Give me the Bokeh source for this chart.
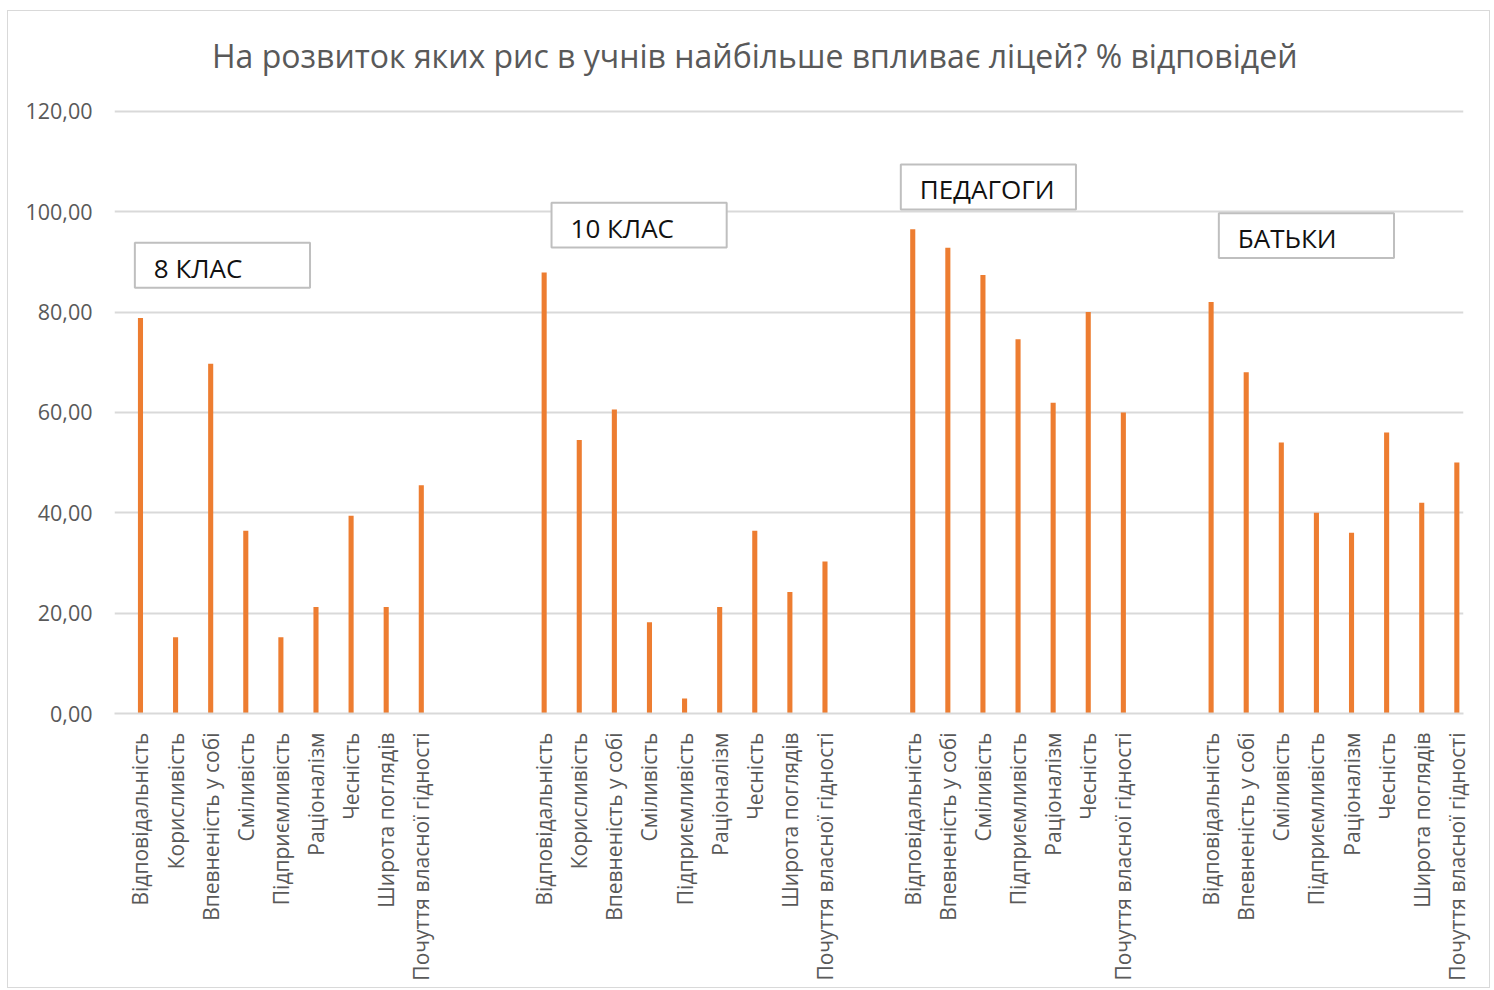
import math
from bokeh.plotting import figure
from bokeh.models import FixedTicker, Range1d, BoxAnnotation, Label, ColumnDataSource
from bokeh.embed import file_html
from bokeh.resources import INLINE

# ---------------- data ----------------
chart_title = "На розвиток яких рис в учнів найбільше впливає ліцей? % відповідей"

group_names = ["8 КЛАС", "10 КЛАС", "ПЕДАГОГИ", "БАТЬКИ"]

cats_8 = ["Відповідальність", "Корисливість", "Впевненість у собі", "Сміливість",
          "Підприємливість", "Раціоналізм", "Чесність", "Широта поглядів",
          "Почуття власної гідності"]
vals_8 = [78.8, 15.2, 69.7, 36.4, 15.2, 21.2, 39.4, 21.2, 45.5]

cats_10 = ["Відповідальність", "Корисливість", "Впевненість у собі", "Сміливість",
           "Підприємливість", "Раціоналізм", "Чесність", "Широта поглядів",
           "Почуття власної гідності"]
vals_10 = [87.9, 54.5, 60.6, 18.2, 3.0, 21.2, 36.4, 24.2, 30.3]

cats_ped = ["Відповідальність", "Впевненість у собі", "Сміливість", "Підприємливість",
            "Раціоналізм", "Чесність", "Почуття власної гідності"]
vals_ped = [96.5, 92.8, 87.4, 74.6, 61.9, 80.0, 60.0]

cats_par = ["Відповідальність", "Впевненість у собі", "Сміливість", "Підприємливість",
            "Раціоналізм", "Чесність", "Широта поглядів", "Почуття власної гідності"]
vals_par = [82.0, 68.0, 54.0, 40.0, 36.0, 56.0, 42.0, 50.0]

y_ticks = [0, 20, 40, 60, 80, 100, 120]
y_tick_labels = ["0,00", "20,00", "40,00", "60,00", "80,00", "100,00", "120,00"]

# ---------------- layout (positions / styles) ----------------
group_cats = [cats_8, cats_10, cats_ped, cats_par]
group_vals = [vals_8, vals_10, vals_ped, vals_par]
group_gaps = [0.0, 3.5, 2.5, 2.5]          # distance (in slots) from previous group's last bar
box_dx = [-0.16, 0.21, -0.34, 0.22]         # label-box left edge relative to group's first bar
box_top = [93.8, 101.8, 109.4, 99.7]        # label-box top (y units)
box_w, box_h = 4.99, 8.95
title_x = 17.5                              # horizontal centre of the chart title (x units)
y_headroom = 15.9                           # empty space above the last gridline (holds the title)

BAR = "#ED7D31"
GRID = "#D9D9D9"
TXT = "#595959"
FONT = "Open Sans"

xs, tops, labels, firsts = [], [], [], []
pos = 0.0
for gi, (cats, vals) in enumerate(zip(group_cats, group_vals)):
    pos = pos + group_gaps[gi] if gi > 0 else 0.0
    firsts.append(pos)
    for i, (c, v) in enumerate(zip(cats, vals)):
        if i > 0:
            pos += 1.0
        xs.append(pos)
        tops.append(v)
        labels.append(c)

src = ColumnDataSource(dict(x=xs, top=tops, label=labels))

p = figure(width=1483, height=978, output_backend="svg", toolbar_location=None,
           x_range=Range1d(-0.74, xs[-1] + 0.19),
           y_range=Range1d(0, y_ticks[-1] + y_headroom),
           min_border_left=106, min_border_right=28, min_border_top=20,
           min_border_bottom=276)
p.styles = {"border": "1.5px solid #D9D9D9", "box-sizing": "border-box",
            "margin-left": "7px", "margin-top": "10px"}
p.outline_line_color = None
p.background_fill_color = "white"
p.border_fill_color = "white"

p.vbar(x="x", top="top", width=0.145, bottom=0, source=src, fill_color=BAR, line_color=None)

# title (as a label above the last gridline)
p.add_layout(Label(x=title_x, y=y_ticks[-1], y_offset=56, text=chart_title,
                   text_font=FONT, text_font_size="32px", text_color=TXT,
                   text_align="center", text_baseline="middle"))

# y axis
p.yaxis.ticker = FixedTicker(ticks=y_ticks)
p.yaxis.major_label_overrides = {k: v for k, v in zip(y_ticks, y_tick_labels)}
p.yaxis.axis_line_color = None
p.yaxis.major_tick_line_color = None
p.yaxis.minor_tick_line_color = None
p.yaxis.major_tick_out = 0
p.yaxis.major_tick_in = 0
p.yaxis.major_label_standoff = 22
p.yaxis.major_label_text_font = FONT
p.yaxis.major_label_text_font_size = "21.5px"
p.yaxis.major_label_text_color = TXT

# x axis
p.xaxis.ticker = FixedTicker(ticks=xs)
p.xaxis.major_label_overrides = {x: l for x, l in zip(xs, labels)}
p.xaxis.major_label_orientation = math.pi / 2
p.xaxis.axis_line_color = GRID
p.xaxis.axis_line_width = 2
p.xaxis.major_tick_line_color = None
p.xaxis.minor_tick_line_color = None
p.xaxis.major_tick_out = 0
p.xaxis.major_tick_in = 0
p.xaxis.major_label_standoff = 19
p.xaxis.major_label_text_font = FONT
p.xaxis.major_label_text_font_size = "21px"
p.xaxis.major_label_text_color = TXT

p.xgrid.grid_line_color = None
p.ygrid.grid_line_color = GRID
p.ygrid.grid_line_width = 2
p.ygrid.ticker = FixedTicker(ticks=y_ticks)

# group label boxes
for gi, name in enumerate(group_names):
    left = firsts[gi] + box_dx[gi]
    top = box_top[gi]
    p.add_layout(BoxAnnotation(left=left, right=left + box_w, top=top, bottom=top - box_h,
                               fill_color="white", fill_alpha=1.0,
                               line_color="#BFBFBF", line_alpha=1.0, line_width=2))
    p.add_layout(Label(x=left, y=top - box_h, x_offset=19, y_offset=20, text=name,
                       text_font=FONT, text_font_size="26px", text_color="#111111",
                       text_baseline="alphabetic", text_align="left"))

open("out.html", "w").write(file_html(p, INLINE))
